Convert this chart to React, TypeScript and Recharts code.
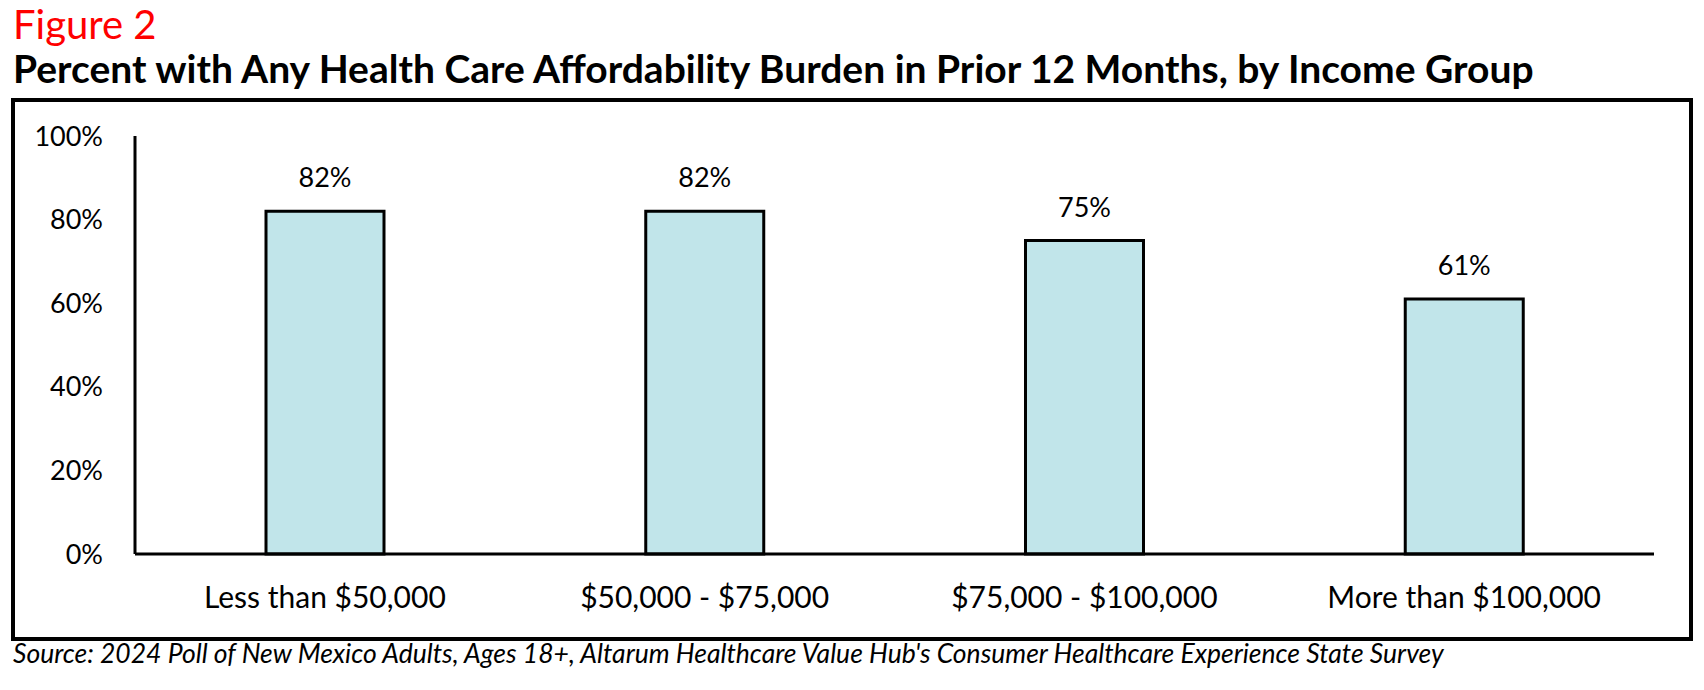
import { BarChart, Bar, XAxis, YAxis, LabelList } from 'recharts'

const incomeGroups = ['Less than $50,000', '$50,000 - $75,000', '$75,000 - $100,000', 'More than $100,000']
const burdenPct = [82, 82, 75, 61]
const yTicks = [0, 20, 40, 60, 80, 100]

const data = incomeGroups.map((group, i) => ({ group, value: burdenPct[i] }))

const FONT = 'Lato, "Open Sans", sans-serif'

export default function App() {
  return (
    <div
      style={{
        position: 'absolute',
        left: 0,
        top: 0,
        width: 1704,
        height: 690,
        background: '#fff',
        fontFamily: FONT,
        color: '#000',
      }}
    >
      <div style={{ position: 'absolute', left: 13, top: 0, fontSize: 40, color: '#ff0000', lineHeight: '48px' }}>
        Figure 2
      </div>
      <div style={{ position: 'absolute', left: 13, top: 45, fontSize: 39, fontWeight: 700, lineHeight: '47px', whiteSpace: 'nowrap' }}>
        Percent with Any Health Care Affordability Burden in Prior 12 Months, by Income Group
      </div>
      <div
        style={{
          position: 'absolute',
          left: 11,
          top: 98,
          width: 1682,
          height: 543,
          boxSizing: 'border-box',
          border: '4px solid #000',
        }}
      />
      <div style={{ position: 'absolute', left: 0, top: 0 }}>
        <BarChart width={1704} height={690} data={data} margin={{ top: 136, right: 50, bottom: 76, left: 35 }}>
          <XAxis
            dataKey="group"
            height={60}
            tickLine={false}
            tickSize={0}
            tickMargin={33}
            axisLine={{ stroke: '#000', strokeWidth: 3 }}
            tick={{ fill: '#000', fontSize: 30, fontFamily: FONT }}
          />
          <YAxis
            width={100}
            domain={[0, 100]}
            ticks={yTicks}
            tickLine={false}
            tickSize={0}
            tickMargin={32}
            tickFormatter={(v) => `${v}%`}
            axisLine={{ stroke: '#000', strokeWidth: 3 }}
            tick={{ fill: '#000', fontSize: 27, fontFamily: FONT }}
          />
          <Bar dataKey="value" barSize={118} fill="#c1e5ea" stroke="#000" strokeWidth={3} isAnimationActive={false}>
            <LabelList
              dataKey="value"
              position="top"
              offset={24}
              formatter={(v) => `${v}%`}
              style={{ fill: '#000', fontSize: 27, fontFamily: FONT }}
            />
          </Bar>
        </BarChart>
      </div>
      <div style={{ position: 'absolute', left: 13, top: 637, fontSize: 26.5, fontStyle: 'italic', lineHeight: '32px', whiteSpace: 'nowrap' }}>
        Source: 2024 Poll of New Mexico Adults, Ages 18+, Altarum Healthcare Value Hub's Consumer Healthcare Experience State Survey
      </div>
    </div>
  )
}
